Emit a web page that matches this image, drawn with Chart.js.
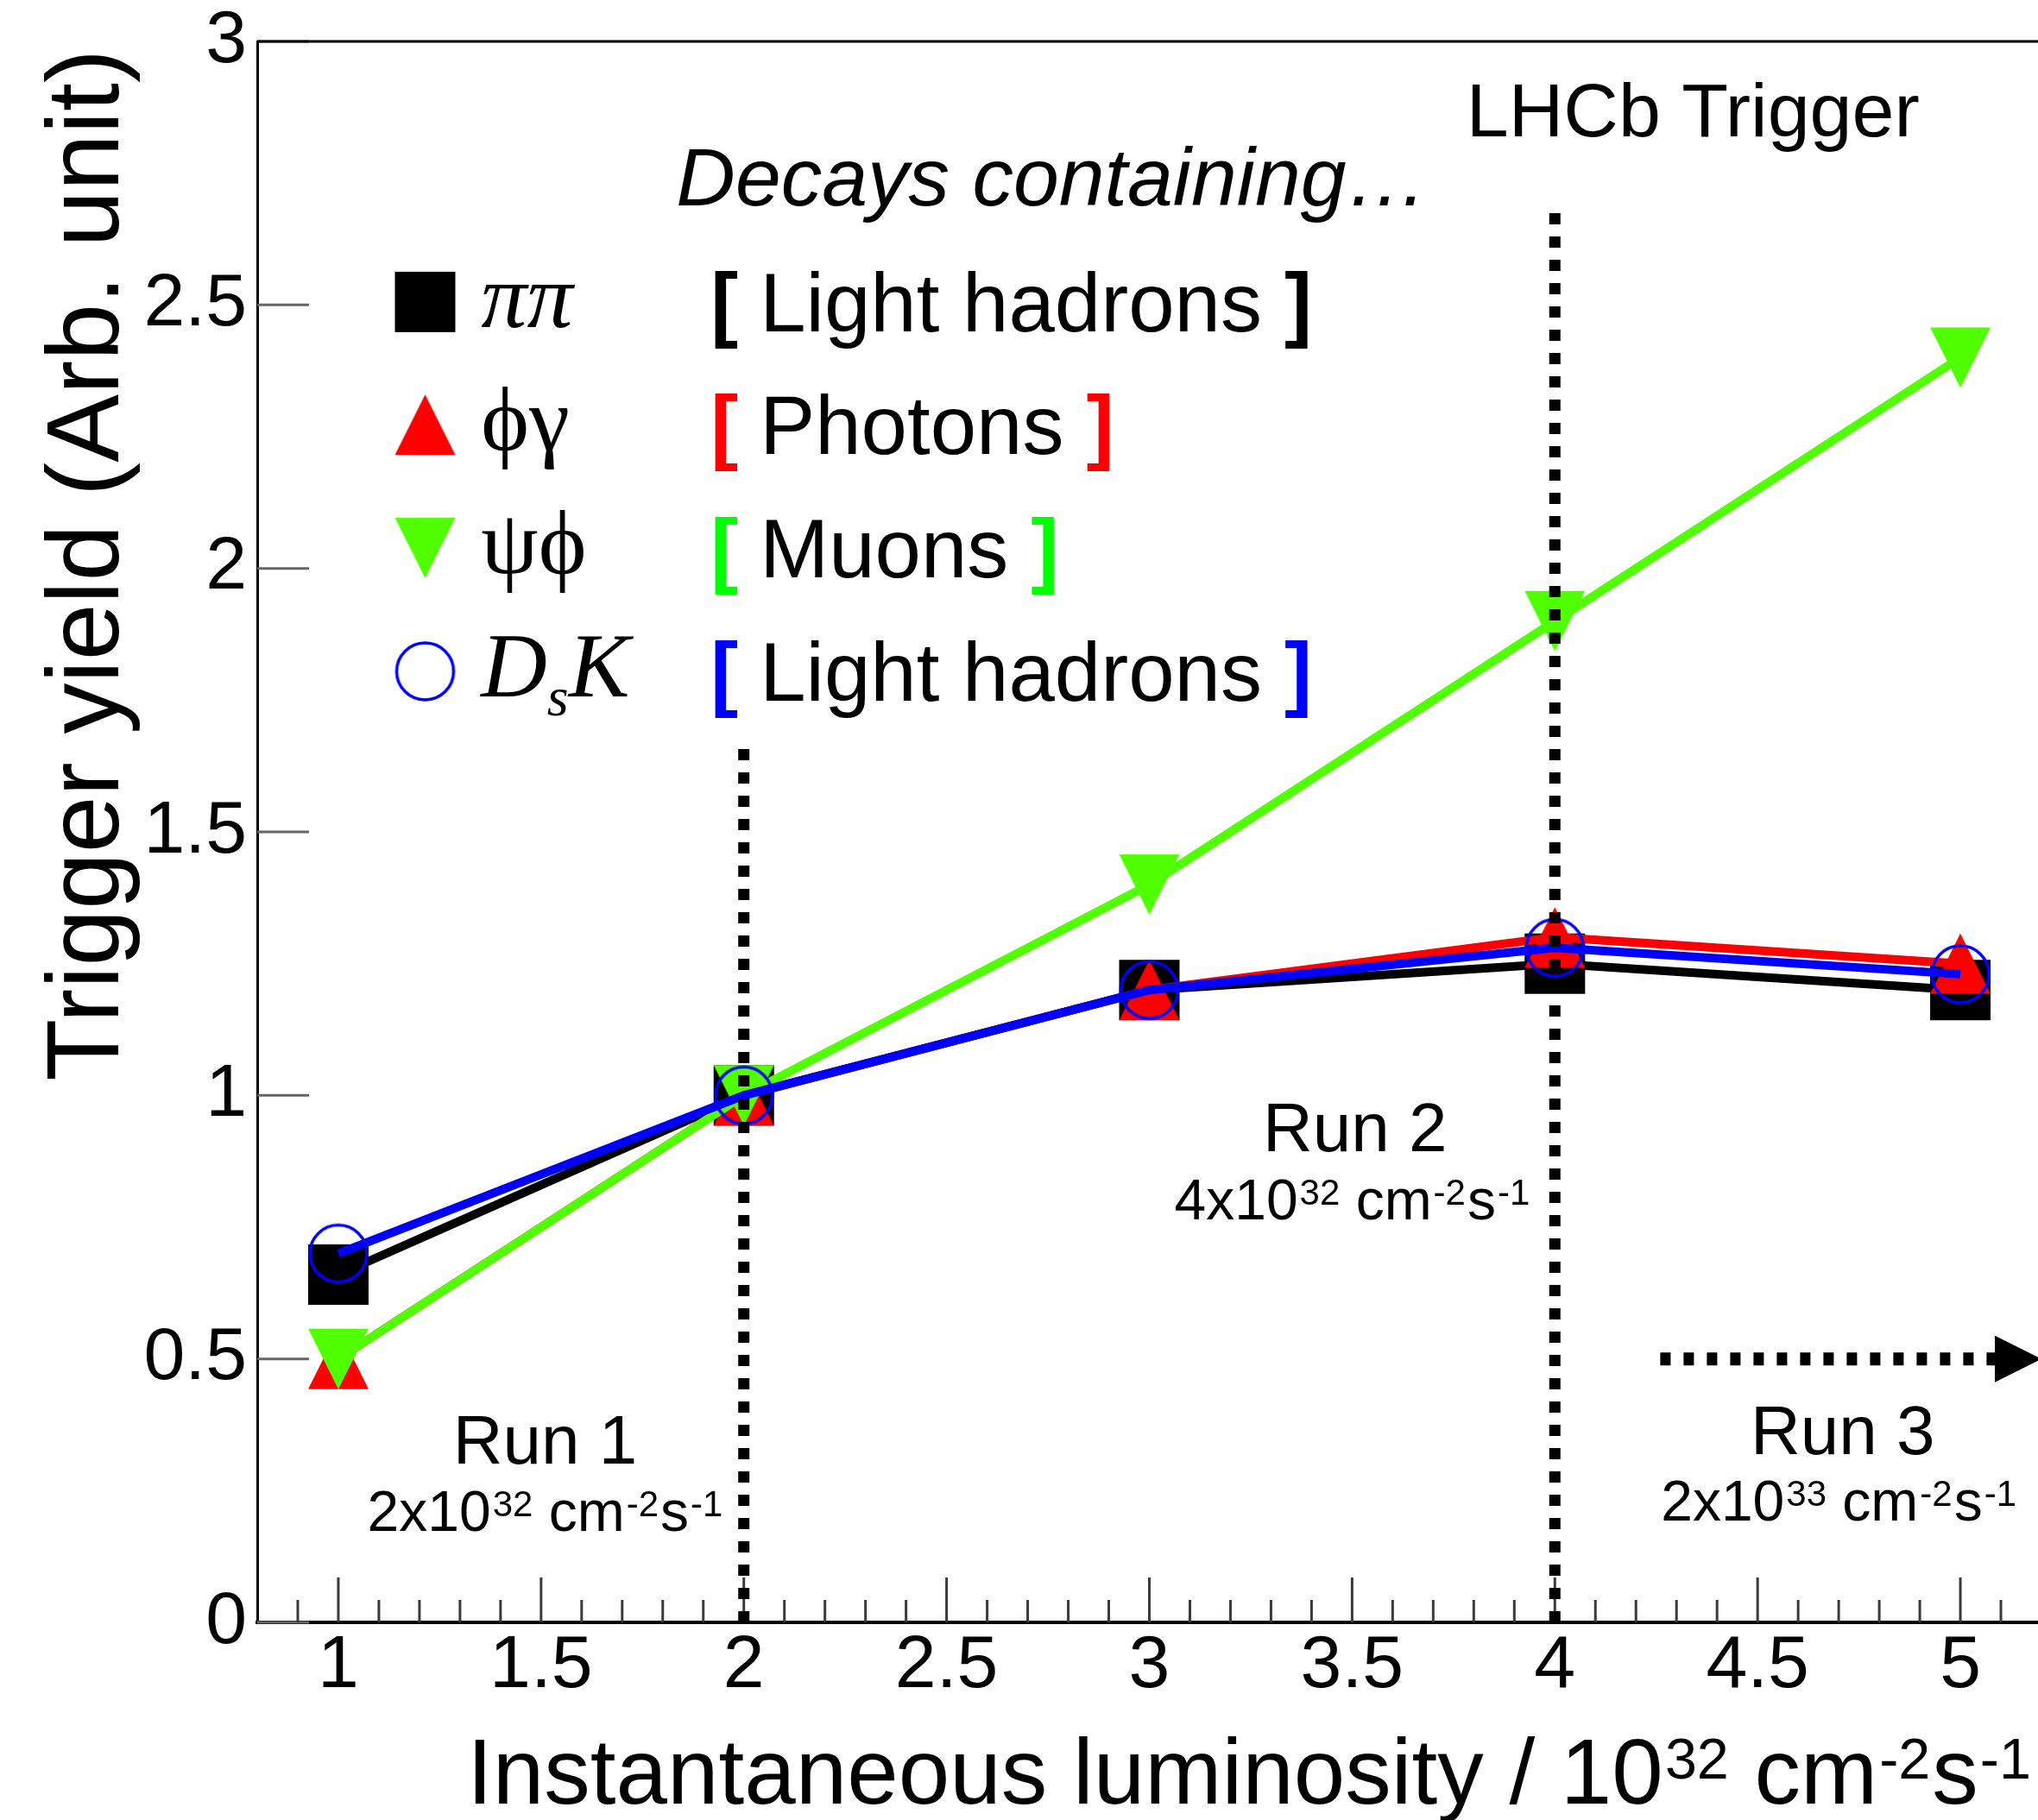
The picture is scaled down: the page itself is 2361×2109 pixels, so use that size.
<!DOCTYPE html>
<html>
<head>
<meta charset="utf-8">
<title>LHCb Trigger yield vs luminosity</title>
<script src="https://cdn.jsdelivr.net/npm/chart.js@4.4.1/dist/chart.umd.min.js"></script>
<style>
  html, body { margin: 0; padding: 0; background: #fff; overflow: hidden; }
  #wrap { width: 2370px; height: 2109px; }
</style>
</head>
<body>
<div id="wrap"><canvas id="yieldChart" width="2370" height="2109"></canvas></div>
<script>
// instantaneous luminosity, 10^32 cm^-2 s^-1
const luminosity = [1, 2, 3, 4, 5];

// trigger yields per decay, arbitrary units (1 at L = 2)
const yieldPiPi = [0.66, 1.00, 1.20, 1.25, 1.20];
const yieldPhiGamma = [0.50, 1.00, 1.20, 1.30, 1.25];
const yieldPsiPhi = [0.50, 1.00, 1.40, 1.90, 2.40];
const yieldDsK = [0.70, 1.00, 1.20, 1.28, 1.23];

const xTickLabels = ['1', '1.5', '2', '2.5', '3', '3.5', '4', '4.5', '5'];
const yTickLabels = ['0', '0.5', '1', '1.5', '2', '2.5', '3'];

const decayCategories = ['Light hadrons', 'Photons', 'Muons', 'Light hadrons'];
const runNames = ['Run 1', 'Run 2', 'Run 3'];
const runLumiMantissa = ['2x10', '4x10', '2x10'];
const runLumiExponent = ['32', '32', '33'];

const SANS = '"Liberation Sans", Arial, Helvetica, sans-serif';
const SERIF = '"Liberation Serif", "DejaVu Serif", "Times New Roman", serif';

const BLACK = '#000000';
const RED = '#ff0000';
const GREEN = '#50ff00';
const BLUE = '#0000ff';
const bracketColors = [BLACK, RED, '#00ff00', BLUE];

// ROOT-like markers drawn once on small canvases
function makeMarker(kind, color) {
    const c = document.createElement('canvas');
    c.width = 74;
    c.height = 74;
    const g = c.getContext('2d');
    const m = 37, h = 35;
    g.fillStyle = color;
    g.strokeStyle = color;
    g.beginPath();
    if (kind === 'square') {
        g.rect(m - h, m - h, 2 * h, 2 * h);
        g.fill();
    } else if (kind === 'up') {
        g.moveTo(m, m - h);
        g.lineTo(m + h, m + h);
        g.lineTo(m - h, m + h);
        g.closePath();
        g.fill();
    } else if (kind === 'down') {
        g.moveTo(m - h, m - h);
        g.lineTo(m + h, m - h);
        g.lineTo(m, m + h);
        g.closePath();
        g.fill();
    } else {
        g.lineWidth = 3.5;
        g.arc(m, m, h - 2, 0, Math.PI * 2);
        g.stroke();
    }
    return c;
}

const markers = [
    makeMarker('square', BLACK),
    makeMarker('up', RED),
    makeMarker('down', GREEN),
    makeMarker('circle', BLUE)
];

function toPoints(values) {
    return luminosity.map((x, i) => ({ x: x, y: values[i] }));
}

function labelFor(list, value) {
    const hit = list.find(s => Math.abs(parseFloat(s) - value) < 1e-6);
    return hit === undefined ? null : hit;
}

// text made of several runs (superscripts, subscripts, mixed fonts)
function drawRuns(ctx, runs, x, y, align) {
    let total = 0;
    runs.forEach(r => {
        ctx.font = r.font;
        r.w = ctx.measureText(r.text).width;
        total += r.w + (r.gap || 0);
    });
    let cx = align === 'center' ? x - total / 2 : (align === 'right' ? x - total : x);
    ctx.textAlign = 'left';
    ctx.textBaseline = 'alphabetic';
    runs.forEach(r => {
        ctx.font = r.font;
        ctx.fillStyle = r.color || BLACK;
        ctx.fillText(r.text, cx, y - (r.rise || 0));
        cx += r.w + (r.gap || 0);
    });
}

function unitRuns(mantissa, exponent, S, s) {
    const rise = 0.716 * (S - s);
    const big = S + 'px ' + SANS;
    const small = s + 'px ' + SANS;
    return [
        { text: mantissa, font: big, gap: 2 },
        { text: exponent, font: small, rise: rise },
        { text: ' cm', font: big, gap: 2 },
        { text: '-2', font: small, rise: rise, gap: 2 },
        { text: 's', font: big, gap: 2 },
        { text: '-1', font: small, rise: rise }
    ];
}

const lhcbDecor = {
    id: 'lhcbDecor',
    beforeDatasetsDraw(chart) {
        const ctx = chart.ctx;
        const xs = chart.scales.x, ys = chart.scales.y;
        const area = chart.chartArea;
        ctx.save();
        // y ticks, pointing into the frame
        ctx.strokeStyle = '#666666';
        ctx.lineWidth = 3;
        ys.ticks.forEach(t => {
            const y = ys.getPixelForValue(t.value);
            ctx.beginPath();
            ctx.moveTo(area.left, y);
            ctx.lineTo(area.left + 60, y);
            ctx.stroke();
        });
        // x ticks: major every 0.5, minor every 0.1
        ctx.strokeStyle = '#3a3a3a';
        for (let i = 9; i <= 52; i++) {
            const x = xs.getPixelForValue(i / 10);
            const len = i % 5 === 0 ? 52 : 26;
            ctx.beginPath();
            ctx.moveTo(x, area.bottom);
            ctx.lineTo(x, area.bottom - len);
            ctx.stroke();
        }
        ctx.restore();
    },
    afterDatasetsDraw(chart) {
        const ctx = chart.ctx;
        const xs = chart.scales.x, ys = chart.scales.y;
        const px = v => xs.getPixelForValue(v);
        const py = v => ys.getPixelForValue(v);
        ctx.save();
        ctx.strokeStyle = BLACK;
        ctx.lineCap = 'butt';
        // run boundaries
        ctx.lineWidth = 13;
        ctx.setLineDash([13, 14]);
        [[2, 1.66], [4, 2.685]].forEach(([xv, top]) => {
            ctx.beginPath();
            ctx.moveTo(px(xv), py(0));
            ctx.lineTo(px(xv), py(top));
            ctx.stroke();
        });
        // run 3 arrow
        ctx.lineWidth = 15;
        ctx.setLineDash([12, 15]);
        ctx.beginPath();
        ctx.moveTo(px(4.26), py(0.5));
        ctx.lineTo(px(5.085), py(0.5));
        ctx.stroke();
        ctx.setLineDash([]);
        ctx.fillStyle = BLACK;
        ctx.beginPath();
        ctx.moveTo(px(5.085), py(0.5) - 27);
        ctx.lineTo(px(5.2), py(0.5));
        ctx.lineTo(px(5.085), py(0.5) + 27);
        ctx.closePath();
        ctx.fill();
        ctx.restore();
    },
    afterDraw(chart) {
        const ctx = chart.ctx;
        const xs = chart.scales.x, ys = chart.scales.y;
        const area = chart.chartArea;
        const px = v => xs.getPixelForValue(v);
        const py = v => ys.getPixelForValue(v);
        ctx.save();

        // top and right side of the frame
        ctx.strokeStyle = BLACK;
        ctx.lineWidth = 3;
        ctx.beginPath();
        ctx.moveTo(area.left, area.top);
        ctx.lineTo(area.right, area.top);
        ctx.lineTo(area.right, area.bottom);
        ctx.stroke();

        // axis titles
        ctx.fillStyle = BLACK;
        ctx.save();
        ctx.translate(area.left - 161, area.top + 9);
        ctx.rotate(-Math.PI / 2);
        ctx.font = '118px ' + SANS;
        ctx.textAlign = 'right';
        ctx.textBaseline = 'alphabetic';
        ctx.fillText('Trigger yield (Arb. unit)', 0, 0);
        ctx.restore();

        const xTitle = unitRuns('10', '32', 107, 66.5);
        xTitle.unshift({ text: 'Instantaneous luminosity / ', font: '107px ' + SANS });
        drawRuns(ctx, xTitle, area.left + 243, area.bottom + 210, 'left');

        // header texts
        drawRuns(ctx, [{ text: 'Decays containing\u2026', font: 'italic 95px ' + SANS }],
            px(1.833), py(2.689), 'left');
        drawRuns(ctx, [{ text: 'LHCb Trigger', font: '88px ' + SANS }],
            px(3.782), py(2.82), 'left');

        // legend: marker, decay, [ category ]
        const rowY = [2.45, 2.217, 1.983, 1.749].map(py);
        const markX = px(1.214), symX = px(1.352), brX = px(1.918);
        const serif = '106px ' + SERIF;
        const serifIt = 'italic 106px ' + SERIF;
        const decayRuns = [
            [{ text: '\u03c0\u03c0', font: serifIt }],
            [{ text: '\u03d5\u03b3', font: serif }],
            [{ text: '\u03c8\u03d5', font: serif }],
            [{ text: 'D', font: serifIt }, { text: 's', font: 'italic 64px ' + SERIF, rise: -22 }, { text: 'K', font: serifIt }]
        ];
        rowY.forEach((y, i) => {
            const mk = markers[i];
            ctx.drawImage(mk, markX - mk.width / 2, y - 34 - mk.height / 2);
            drawRuns(ctx, decayRuns[i], symX, y - 5, 'left');
            const body = '96px ' + SANS;
            const bold = 'bold 96px ' + SANS;
            drawRuns(ctx, [
                { text: '[', font: bold, color: bracketColors[i], gap: 25 },
                { text: decayCategories[i], font: body, gap: 26 },
                { text: ']', font: bold, color: bracketColors[i] }
            ], brX, y, 'left');
        });

        // run periods
        const runX = [1.51, 3.507, 4.71];
        const runY = [0.301, 0.894, 0.319];
        const subX = [1.51, 3.50, 4.70];
        const subY = [0.173, 0.764, 0.193];
        runNames.forEach((name, i) => {
            drawRuns(ctx, [{ text: name, font: '80px ' + SANS }], px(runX[i]), py(runY[i]), 'center');
            drawRuns(ctx, unitRuns(runLumiMantissa[i], runLumiExponent[i], 66, 42),
                px(subX[i]), py(subY[i]), 'center');
        });
        ctx.restore();
    }
};

const tickFont = size => ({ family: SANS, size: size, lineHeight: 1 });

new Chart(document.getElementById('yieldChart'), {
    type: 'line',
    data: {
        datasets: [
            { label: '\u03c0\u03c0', data: toPoints(yieldPiPi), borderColor: BLACK, borderWidth: 10, pointStyle: markers[0], order: 4 },
            { label: '\u03d5\u03b3', data: toPoints(yieldPhiGamma), borderColor: RED, borderWidth: 10, pointStyle: markers[1], order: 3 },
            { label: '\u03c8\u03d5', data: toPoints(yieldPsiPhi), borderColor: GREEN, borderWidth: 10, pointStyle: markers[2], order: 2 },
            { label: 'DsK', data: toPoints(yieldDsK), borderColor: BLUE, borderWidth: 10, pointStyle: markers[3], order: 1 }
        ]
    },
    options: {
        responsive: false,
        animation: false,
        events: [],
        devicePixelRatio: 1,
        layout: { autoPadding: false, padding: { top: 48, right: 5, bottom: 0, left: 0 } },
        elements: {
            line: { tension: 0, fill: false, borderJoinStyle: 'miter' },
            point: { radius: 35 }
        },
        plugins: {
            legend: { display: false },
            tooltip: { enabled: false }
        },
        scales: {
            x: {
                type: 'linear',
                min: 0.8,
                max: 5.2,
                afterBuildTicks: s => { s.ticks = xTickLabels.map(t => ({ value: parseFloat(t) })); },
                afterFit: s => { s.height = 229; s.paddingLeft = 0; s.paddingRight = 0; },
                grid: { display: false, drawTicks: false },
                border: { display: true, color: BLACK, width: 4 },
                ticks: {
                    autoSkip: false,
                    maxRotation: 0,
                    padding: 8,
                    color: BLACK,
                    font: tickFont(86),
                    callback: v => labelFor(xTickLabels, v)
                }
            },
            y: {
                min: 0,
                max: 3,
                afterBuildTicks: s => { s.ticks = yTickLabels.map(t => ({ value: parseFloat(t) })); },
                afterFit: s => { s.width = 298; s.paddingTop = 0; s.paddingBottom = 0; },
                grid: { display: false, drawTicks: false },
                border: { display: true, color: BLACK, width: 3 },
                ticks: {
                    autoSkip: false,
                    padding: 12,
                    color: BLACK,
                    font: tickFont(86),
                    callback: v => labelFor(yTickLabels, v)
                }
            }
        }
    },
    plugins: [lhcbDecor]
});
</script>
</body>
</html>
